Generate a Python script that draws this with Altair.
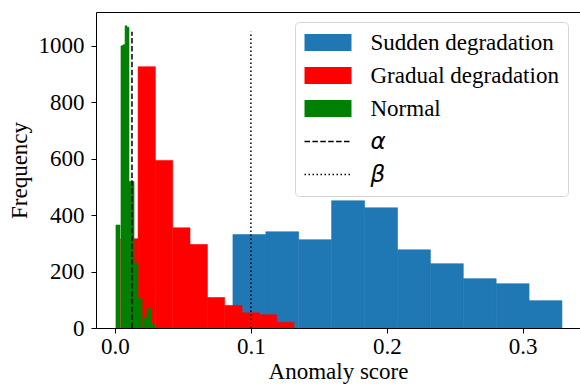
import altair as alt
import pandas as pd

# ---- data ----
series_names = ["Sudden degradation", "Gradual degradation", "Normal", "α", "β"]
series_colors = ["#1f77b4", "#ff0000", "#008000", "#000000", "#000000"]

sudden_start = [0.0868, 0.1110, 0.1352, 0.1594, 0.1837, 0.2079, 0.2321, 0.2563, 0.2805, 0.3047]
sudden_end = [0.1110, 0.1352, 0.1594, 0.1837, 0.2079, 0.2321, 0.2563, 0.2805, 0.3047, 0.3289]
sudden_count = [331, 341, 313, 451, 426, 277, 228, 175, 157, 97]

gradual_start = [0.0042, 0.0170, 0.0297, 0.0425, 0.0552, 0.0680, 0.0807, 0.0935, 0.1062, 0.1190]
gradual_end = [0.0170, 0.0297, 0.0425, 0.0552, 0.0680, 0.0807, 0.0935, 0.1062, 0.1190, 0.1317]
gradual_count = [316, 926, 594, 355, 296, 108, 80, 54, 47, 20]

normal_start = [0.0007, 0.0044, 0.0059, 0.0074, 0.0088, 0.0103, 0.0140, 0.0169, 0.0206, 0.0235, 0.0265]
normal_end = [0.0037, 0.0059, 0.0074, 0.0088, 0.0103, 0.0140, 0.0169, 0.0199, 0.0235, 0.0265, 0.0294]
normal_count = [365, 1000, 1004, 1071, 1066, 519, 231, 104, 37, 68, 12]

threshold_names = ["α", "β"]
threshold_x = [0.0125, 0.1]
threshold_top = [1050, 1050]

x_ticks = [0.0, 0.1, 0.2, 0.3]
y_ticks = [0, 200, 400, 600, 800, 1000]
x_domain = [-0.01398, 0.34219]
y_domain = [0, 1120]

# ---- tables ----
rows = []
for name, s, e, c in [
    ("Sudden degradation", sudden_start, sudden_end, sudden_count),
    ("Gradual degradation", gradual_start, gradual_end, gradual_count),
    ("Normal", normal_start, normal_end, normal_count),
]:
    for a, b, n in zip(s, e, c):
        rows.append({"series": name, "x0": a, "x1": b, "count": n, "base": 0})
bars_df = pd.DataFrame(rows)
bars_df["idx"] = range(len(bars_df))

lines_df = pd.DataFrame({
    "series": threshold_names,
    "x": threshold_x,
    "base": [0, 0],
    "top": threshold_top,
})

SERIF = "Liberation Serif"
FS = 23
xscale = alt.Scale(domain=x_domain, nice=False, zero=False)
yscale = alt.Scale(domain=y_domain, nice=False, zero=False)
color_scale = alt.Scale(domain=series_names, range=series_colors)

y_axis = alt.Axis(
    values=y_ticks,
    format="d",
    title="Frequency",
    grid=False,
    tickSize=5,
    labelPadding=7,
    titlePadding=7,
    zindex=1,
)

is_line = "(datum.value == 'α' || datum.value == 'β')"

legend = alt.Legend(
    title=None,
    orient="none",
    legendX=199,
    legendY=10,
    direction="vertical",
    padding=9,
    rowPadding=9,
    strokeColor="#d6d6d6",
    fillColor="white",
    cornerRadius=4,
    symbolSize=484,
    symbolOffset=12.5,
    labelOffset=31,
    labelLimit=0,
    labelFontSize=FS,
    labelColor="black",
    labelFont=alt.ExprRef(expr=f"{is_line} ? 'DejaVu Sans' : '{SERIF}'"),
    labelFontStyle=alt.ExprRef(expr=f"{is_line} ? 'italic' : 'normal'"),
    symbolType=alt.ExprRef(
        expr=f"{is_line} ? 'M-2.136,0H2.136' : 'M-2.136,-0.773H2.136V0.773H-2.136Z'"
    ),
    symbolStrokeColor=alt.ExprRef(expr=f"{is_line} ? 'black' : 'transparent'"),
    symbolStrokeWidth=alt.ExprRef(expr=f"{is_line} ? 1.5 : 0"),
    symbolDash=alt.ExprRef(
        expr="datum.value == 'α' ? [5.5, 2.4] : datum.value == 'β' ? [1.5, 2.5] : [1, 0]"
    ),
)

bars = alt.Chart(bars_df).mark_bar(strokeWidth=0.6).encode(
    x=alt.X(
        "x0:Q",
        scale=xscale,
        axis=alt.Axis(
            orient="bottom",
            values=x_ticks,
            format=".1f",
            title="Anomaly score",
            grid=False,
            labelFlush=False,
            tickSize=5,
            labelPadding=2,
            titlePadding=2,
            zindex=1,
        ),
    ),
    x2="x1:Q",
    y=alt.Y("count:Q", stack=None, scale=yscale, axis=y_axis),
    y2="base:Q",
    color=alt.Color("series:N", scale=color_scale, legend=legend),
    stroke=alt.Stroke("series:N", scale=color_scale, legend=None),
    order=alt.Order("idx:Q"),
)

rules = alt.Chart(lines_df).mark_rule(color="black", strokeWidth=1.5).encode(
    x=alt.X(
        "x:Q",
        scale=xscale,
        axis=alt.Axis(orient="top", labels=False, ticks=False, title=None, grid=False, zindex=1),
    ),
    y=alt.Y("base:Q", scale=yscale, axis=y_axis),
    y2="top:Q",
    strokeDash=alt.StrokeDash(
        "series:N",
        scale=alt.Scale(domain=threshold_names, range=[[5.5, 2.4], [1.5, 2.5]]),
        legend=None,
    ),
)

chart = (
    alt.layer(bars, rules)
    .resolve_axis(x="independent")
    .properties(
        width=484,
        height=316,
        autosize=alt.AutoSizeParams(type="none"),
        padding={"left": 96, "top": 12, "right": 0, "bottom": 57},
        background="white",
    )
    .configure(font=SERIF)
    .configure_view(stroke=None)
    .configure_axis(
        labelFont=SERIF,
        labelFontSize=FS,
        labelColor="black",
        titleFont=SERIF,
        titleFontSize=FS,
        titleFontWeight="normal",
        titleColor="black",
        domainColor="black",
        domainWidth=1,
        tickColor="black",
        tickWidth=1,
    )
)

chart.save("out.html", embed_options={"renderer": "svg", "actions": False})
